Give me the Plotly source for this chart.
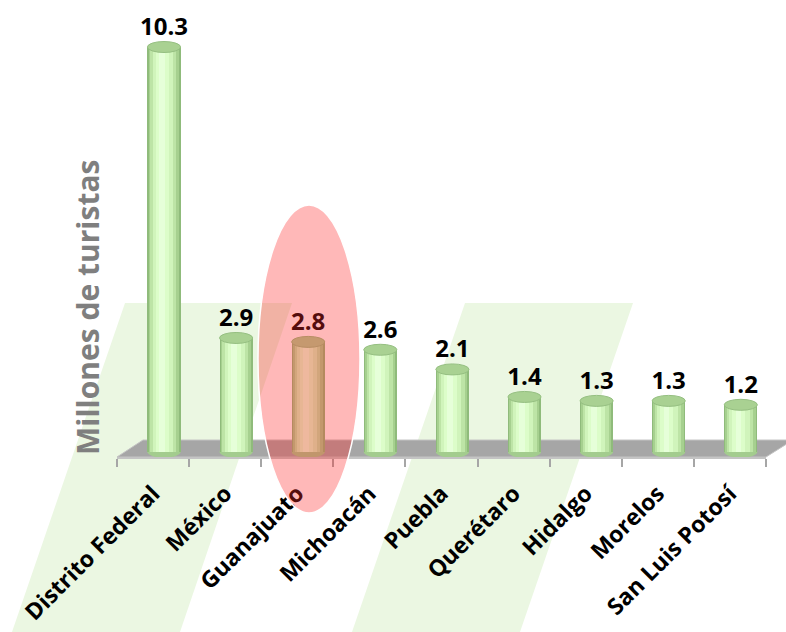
import plotly.graph_objects as go

# ---------------- data ----------------
categories = ["Distrito Federal", "México", "Guanajuato", "Michoacán", "Puebla",
              "Querétaro", "Hidalgo", "Morelos", "San Luis Potosí"]
values = [10.3, 2.9, 2.8, 2.6, 2.1, 1.4, 1.3, 1.3, 1.2]
value_labels = [f"{v:.1f}" for v in values]
y_title = "Millones de turistas"

# ---------------- layout helpers ----------------
W, H = 786, 632
def px(x):
    return x / W
def py(y):
    return 1 - y / H

FONT = "Open Sans"
step = 72.1          # pixels per category
bar_c0 = 164         # pixel centre of first cylinder
zero_px = 452        # pixel of value 0
unit_px = 39.32      # pixels per unit
bottom_px = 457      # bottom of plot area (front edge of floor)

x_range = [-bar_c0 / step, (W - bar_c0) / step]
y_range = [-(bottom_px - zero_px) / unit_px, zero_px / unit_px]
ry = 5.5 / unit_px   # ellipse half height in data units

fig = go.Figure()

# cylinder bodies: stacked overlays of narrower, lighter bars for shading
layers = [
    (0.460, "#8fbb7b", 0.0),
    (0.420, "#a6d08f", -0.004),
    (0.360, "#bde4a6", -0.010),
    (0.280, "#d0f4bb", -0.018),
    (0.180, "#dcfdc9", -0.026),
    (0.080, "#e6ffd9", -0.032),
]
for w, col, off in layers:
    fig.add_trace(go.Bar(
        x=categories, y=values, width=w, offset=-w / 2 + off,
        marker=dict(color=col, line=dict(width=0)),
        hoverinfo="skip", showlegend=False, xaxis="x", yaxis="y",
    ))

# value labels
fig.add_trace(go.Scatter(
    x=categories, y=values, mode="markers+text", text=value_labels,
    textposition="top center",
    marker=dict(size=8, opacity=0),
    textfont=dict(family=FONT, size=24, color="black", weight=700),
    hoverinfo="skip", showlegend=False, cliponaxis=False,
))

# dummy trace for the labelled front axis
fig.add_trace(go.Scatter(
    x=categories, y=[None] * len(categories), xaxis="x2", yaxis="y",
    mode="markers", hoverinfo="skip", showlegend=False,
))

shapes = []
# background green bands
for (tl, tr, bl, br) in [(125, 292, 12, 180), (465, 633, 352, 520)]:
    shapes.append(dict(
        type="path", xref="paper", yref="paper", layer="below",
        path=f"M {px(tl)},{py(303)} L {px(tr)},{py(303)} L {px(br)},{py(H)} L {px(bl)},{py(H)} Z",
        fillcolor="#ebf7e2", line=dict(width=0),
    ))
# floor
shapes.append(dict(
    type="path", xref="paper", yref="paper", layer="below",
    path=(f"M {px(117)},{py(457)} L {px(766)},{py(457)} L {px(793)},{py(440)} "
          f"L {px(143)},{py(440)} Z"),
    fillcolor="#a6a6a6", line=dict(color="#c4c4c4", width=1),
))
# bottom ellipses and top caps
for i, v in enumerate(values):
    w = layers[0][0]
    shapes.append(dict(
        type="circle", xref="x", yref="y", layer="below",
        x0=i - w / 2, x1=i + w / 2, y0=-ry, y1=ry,
        fillcolor="#a3cc8e", line=dict(width=0),
    ))
    shapes.append(dict(
        type="circle", xref="x", yref="y", layer="above",
        x0=i - w / 2, x1=i + w / 2, y0=v - ry, y1=v + ry,
        fillcolor="#a9d192", line=dict(color="#95bf81", width=1),
    ))
# highlight ellipse
shapes.append(dict(
    type="circle", xref="paper", yref="paper", layer="above",
    x0=px(258), x1=px(360), y0=py(513), y1=py(205),
    fillcolor="rgba(255,40,40,0.33)", line=dict(color="white", width=1.5),
))

fig.update_layout(
    width=W, height=H,
    margin=dict(l=0, r=0, t=0, b=0, pad=0, autoexpand=False),
    paper_bgcolor="white", plot_bgcolor="rgba(0,0,0,0)",
    barmode="overlay", bargap=0,
    showlegend=False, hovermode=False,
    shapes=shapes,
    xaxis=dict(domain=[0, 1], range=x_range, type="category",
               categoryorder="array", categoryarray=categories,
               visible=False, fixedrange=True, automargin=False),
    xaxis2=dict(domain=[px(117), px(766)], range=[-0.5, 8.5], type="category",
                categoryorder="array", categoryarray=categories,
                anchor="y", tickson="boundaries", ticks="outside", ticklen=8,
                tickwidth=1.5, tickcolor="#a6a6a6", showline=True,
                linecolor="#c4c4c4", linewidth=2, tickangle=-45,
                ticklabelstandoff=12,
                tickfont=dict(family=FONT, size=23, color="black", weight=700),
                showgrid=False, zeroline=False, fixedrange=True,
                automargin=False),
    yaxis=dict(domain=[1 - bottom_px / H, 1], range=y_range, visible=False,
               fixedrange=True, automargin=False),
    annotations=[dict(
        text=y_title, xref="paper", yref="paper", x=px(88), y=py(308),
        xanchor="center", yanchor="middle",
        textangle=-90, showarrow=False,
        font=dict(family=FONT, size=30, color="#7f7f7f", weight=700),
    )],
)

fig.write_html("out.html", config={"displayModeBar": False},
               post_script="document.body.style.margin='0px';document.body.style.overflow='hidden';")
